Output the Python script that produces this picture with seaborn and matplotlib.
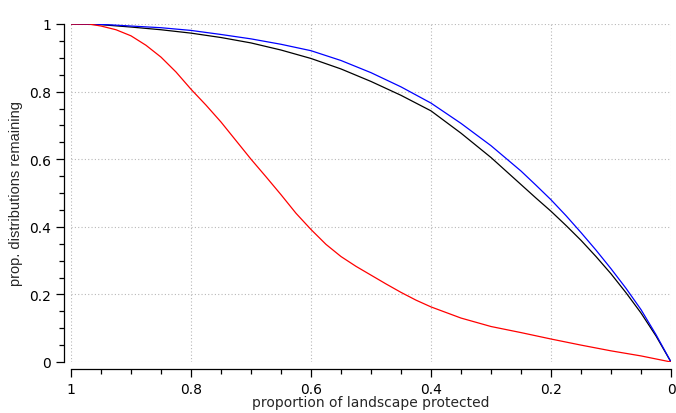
import numpy as np
import pandas as pd
import matplotlib
matplotlib.use("Agg")
import matplotlib.pyplot as plt
from matplotlib.ticker import MultipleLocator, FuncFormatter
import seaborn as sns

x_vals = [1.0, 0.95, 0.9, 0.85, 0.8, 0.75, 0.7, 0.65, 0.6, 0.55, 0.5,
          0.45, 0.4, 0.35, 0.3, 0.25, 0.225, 0.2, 0.175, 0.15, 0.125,
          0.1, 0.075, 0.05, 0.025, 0.0]
black_vals = [1.0, 0.998, 0.991, 0.983, 0.973, 0.96, 0.944, 0.923, 0.898, 0.867, 0.83,
              0.789, 0.743, 0.677, 0.605, 0.525, 0.485, 0.446, 0.404, 0.360, 0.312,
              0.261, 0.205, 0.145, 0.077, 0.0]
blue_vals = [1.0, 0.999, 0.994, 0.989, 0.981, 0.969, 0.956, 0.94, 0.921, 0.892, 0.856,
             0.814, 0.766, 0.706, 0.64, 0.565, 0.523, 0.48, 0.433, 0.383, 0.331,
             0.276, 0.218, 0.155, 0.081, 0.0]
red_x = [1.0, 0.97, 0.95, 0.925, 0.9, 0.875, 0.85, 0.825, 0.8, 0.775, 0.75, 0.725,
         0.7, 0.675, 0.65, 0.625, 0.6, 0.575, 0.55, 0.525, 0.5, 0.475, 0.45, 0.425,
         0.4, 0.35, 0.3, 0.25, 0.2, 0.15, 0.1, 0.05, 0.0]
red_vals = [1.0, 1.0, 0.994, 0.983, 0.965, 0.937, 0.902, 0.858, 0.807, 0.76, 0.71, 0.655,
            0.60, 0.548, 0.495, 0.44, 0.392, 0.348, 0.312, 0.283, 0.257, 0.231, 0.206, 0.183,
            0.163, 0.13, 0.105, 0.087, 0.068, 0.05, 0.033, 0.018, 0.0]
x_ticks = [1.0, 0.8, 0.6, 0.4, 0.2, 0.0]
y_ticks = [0.0, 0.2, 0.4, 0.6, 0.8, 1.0]

sns.set_style("ticks")
plt.rcParams['font.family'] = ['DejaVu Sans']

fig = plt.figure(figsize=(6.76, 4.14), dpi=100)
ax = fig.add_axes([71/676, 51/414, 600/676, 338/414])

df_black = pd.DataFrame({"x": x_vals, "y": black_vals})
df_blue = pd.DataFrame({"x": x_vals, "y": blue_vals})
df_red = pd.DataFrame({"x": red_x, "y": red_vals})

sns.lineplot(data=df_black, x="x", y="y", color="black", lw=0.9, ax=ax, sort=False, estimator=None)
sns.lineplot(data=df_blue, x="x", y="y", color="blue", lw=0.9, ax=ax, sort=False, estimator=None)
sns.lineplot(data=df_red, x="x", y="y", color="red", lw=0.9, ax=ax, sort=False, estimator=None)

ax.set_xlim(1, 0)
ax.set_ylim(0, 1)
ax.set_xticks(x_ticks)
ax.set_yticks(y_ticks)
fmt = FuncFormatter(lambda v, p: "0" if abs(v) < 1e-9 else ("1" if abs(v - 1) < 1e-9 else f"{v:.1f}"))
ax.xaxis.set_major_formatter(fmt)
ax.yaxis.set_major_formatter(fmt)
ax.xaxis.set_minor_locator(MultipleLocator(0.05))
ax.yaxis.set_minor_locator(MultipleLocator(0.05))

ax.grid(True, which="major", color="#b8b8b8", linestyle=(0, (1, 2)), linewidth=0.8)
sns.despine(ax=ax, offset=5)
for s in ["left", "bottom"]:
    ax.spines[s].set_color("black")
    ax.spines[s].set_linewidth(0.9)

ax.tick_params(axis="both", which="major", length=6, width=0.9, color="black",
               labelsize=10, labelcolor="black")
ax.tick_params(axis="both", which="minor", length=3.5, width=0.9, color="black")

ax.set_xlabel("proportion of landscape protected", fontsize=10, labelpad=-1)
ax.set_ylabel("prop. distributions remaining", fontsize=10.5, family=["Liberation Sans"], labelpad=4)

fig.savefig("out.png", dpi=100)
